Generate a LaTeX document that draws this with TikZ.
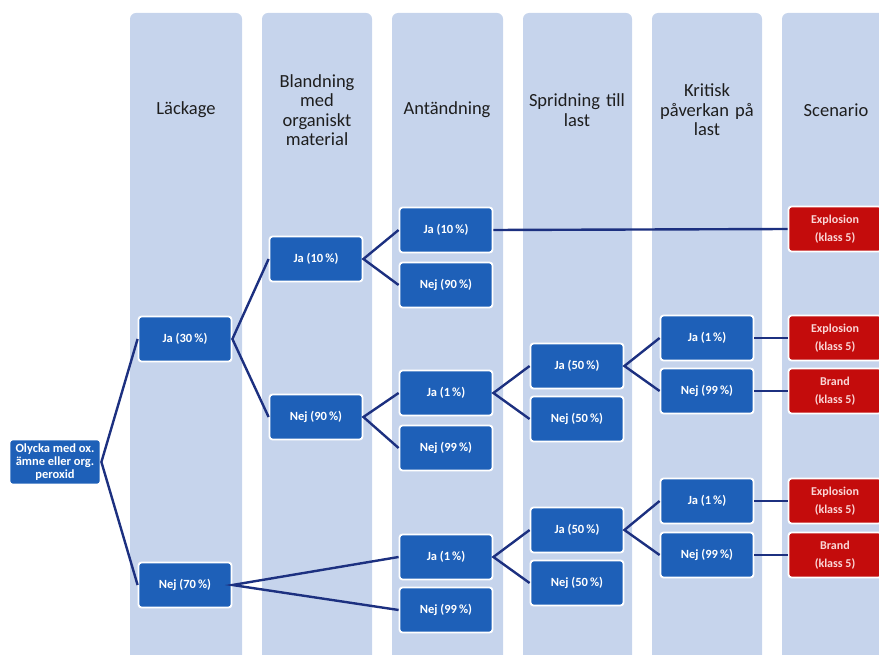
\documentclass[tikz,border=0pt]{standalone}
\usepackage{fontspec}
\setmainfont{Carlito}
\definecolor{colfill}{RGB}{198,212,236}
\definecolor{boxblue}{RGB}{30,96,184}
\definecolor{boxred}{RGB}{196,12,12}
\definecolor{redtext}{RGB}{250,215,215}
\definecolor{linknavy}{RGB}{28,48,128}
\definecolor{headtext}{RGB}{30,30,30}
\begin{document}
\begin{tikzpicture}[x=1pt,y=-1pt,
  column/.style={fill=colfill, rounded corners=6pt},
  heading/.style={text=headtext, align=center, font=\fontsize{18.5}{19.5}\selectfont, text width=112pt},
  choice/.style={fill=boxblue, draw=white, line width=1.8pt, rounded corners=3pt,
    minimum width=93pt, minimum height=45pt, text=white, align=center,
    font=\fontsize{12.5}{13}\selectfont\bfseries, inner sep=1pt},
  outcome/.style={choice, fill=boxred, text=redtext, font=\fontsize{12}{18}\selectfont\bfseries},
  link/.style={draw=linknavy, line width=2.4pt}]
\useasboundingbox (0,0) rectangle (879,655);
% stage columns
\fill[column] (130,13) rectangle (242,665);
\fill[column] (262,13) rectangle (372,665);
\fill[column] (392,13) rectangle (503,665);
\fill[column] (523,13) rectangle (632,665);
\fill[column] (652,13) rectangle (762,665);
\fill[column] (782,13) rectangle (895,665);
% column headings
\node[heading] (h1) at (186,110) {Läckage};
\node[heading] (h2) at (317,110) {Blandning\\med\\organiskt\\material};
\node[heading] (h3) at (447,110) {Antändning};
\node[heading] (h4) at (577,110) {Spridning till\\last};
\node[heading] (h5) at (707,110) {Kritisk\\påverkan på\\last};
\node[heading] (h6) at (836,110) {Scenario};
% event tree nodes
\node[choice, minimum width=91pt] (root) at (55,462) {Olycka med ox.\\ämne eller org.\\peroxid};
\node[choice] (l-ja) at (185,339) {Ja (30\,\%)};
\node[choice] (l-nej) at (185,585) {Nej (70\,\%)};
\node[choice] (b-ja) at (316,259) {Ja (10\,\%)};
\node[choice] (b-nej) at (316,417) {Nej (90\,\%)};
\node[choice] (a1-ja) at (446,230) {Ja (10\,\%)};
\node[choice] (a1-nej) at (446,285) {Nej (90\,\%)};
\node[choice] (a2-ja) at (446,393) {Ja (1\,\%)};
\node[choice] (a2-nej) at (446,448) {Nej (99\,\%)};
\node[choice] (a3-ja) at (446,557) {Ja (1\,\%)};
\node[choice] (a3-nej) at (446,610) {Nej (99\,\%)};
\node[choice] (s2-ja) at (577,366) {Ja (50\,\%)};
\node[choice] (s2-nej) at (577,419) {Nej (50\,\%)};
\node[choice] (s3-ja) at (577,530) {Ja (50\,\%)};
\node[choice] (s3-nej) at (577,583) {Nej (50\,\%)};
\node[choice] (k2-ja) at (707,338) {Ja (1\,\%)};
\node[choice] (k2-nej) at (707,391) {Nej (99\,\%)};
\node[choice] (k3-ja) at (707,501) {Ja (1\,\%)};
\node[choice] (k3-nej) at (707,555) {Nej (99\,\%)};
\node[outcome] (e1) at (835,229) {Explosion\\(klass 5)};
\node[outcome] (e2) at (835,338) {Explosion\\(klass 5)};
\node[outcome] (f2) at (835,391) {Brand\\(klass 5)};
\node[outcome] (e3) at (835,501) {Explosion\\(klass 5)};
\node[outcome] (f3) at (835,555) {Brand\\(klass 5)};
% branches
\draw[link] (l-ja.west) -- (root.east) -- (l-nej.west);
\draw[link] (b-ja.west) -- (l-ja.east) -- (b-nej.west);
\draw[link] (a1-ja.west) -- (b-ja.east) -- (a1-nej.west);
\draw[link] (a2-ja.west) -- (b-nej.east) -- (a2-nej.west);
\draw[link] (a3-ja.west) -- (l-nej.east) -- (a3-nej.west);
\draw[link] (s2-ja.west) -- (a2-ja.east) -- (s2-nej.west);
\draw[link] (s3-ja.west) -- (a3-ja.east) -- (s3-nej.west);
\draw[link] (k2-ja.west) -- (s2-ja.east) -- (k2-nej.west);
\draw[link] (k3-ja.west) -- (s3-ja.east) -- (k3-nej.west);
\draw[link] (a1-ja.east) -- (e1.west);
\draw[link] (k2-ja.east) -- (e2.west);
\draw[link] (k2-nej.east) -- (f2.west);
\draw[link] (k3-ja.east) -- (e3.west);
\draw[link] (k3-nej.east) -- (f3.west);
\end{tikzpicture}
\end{document}
